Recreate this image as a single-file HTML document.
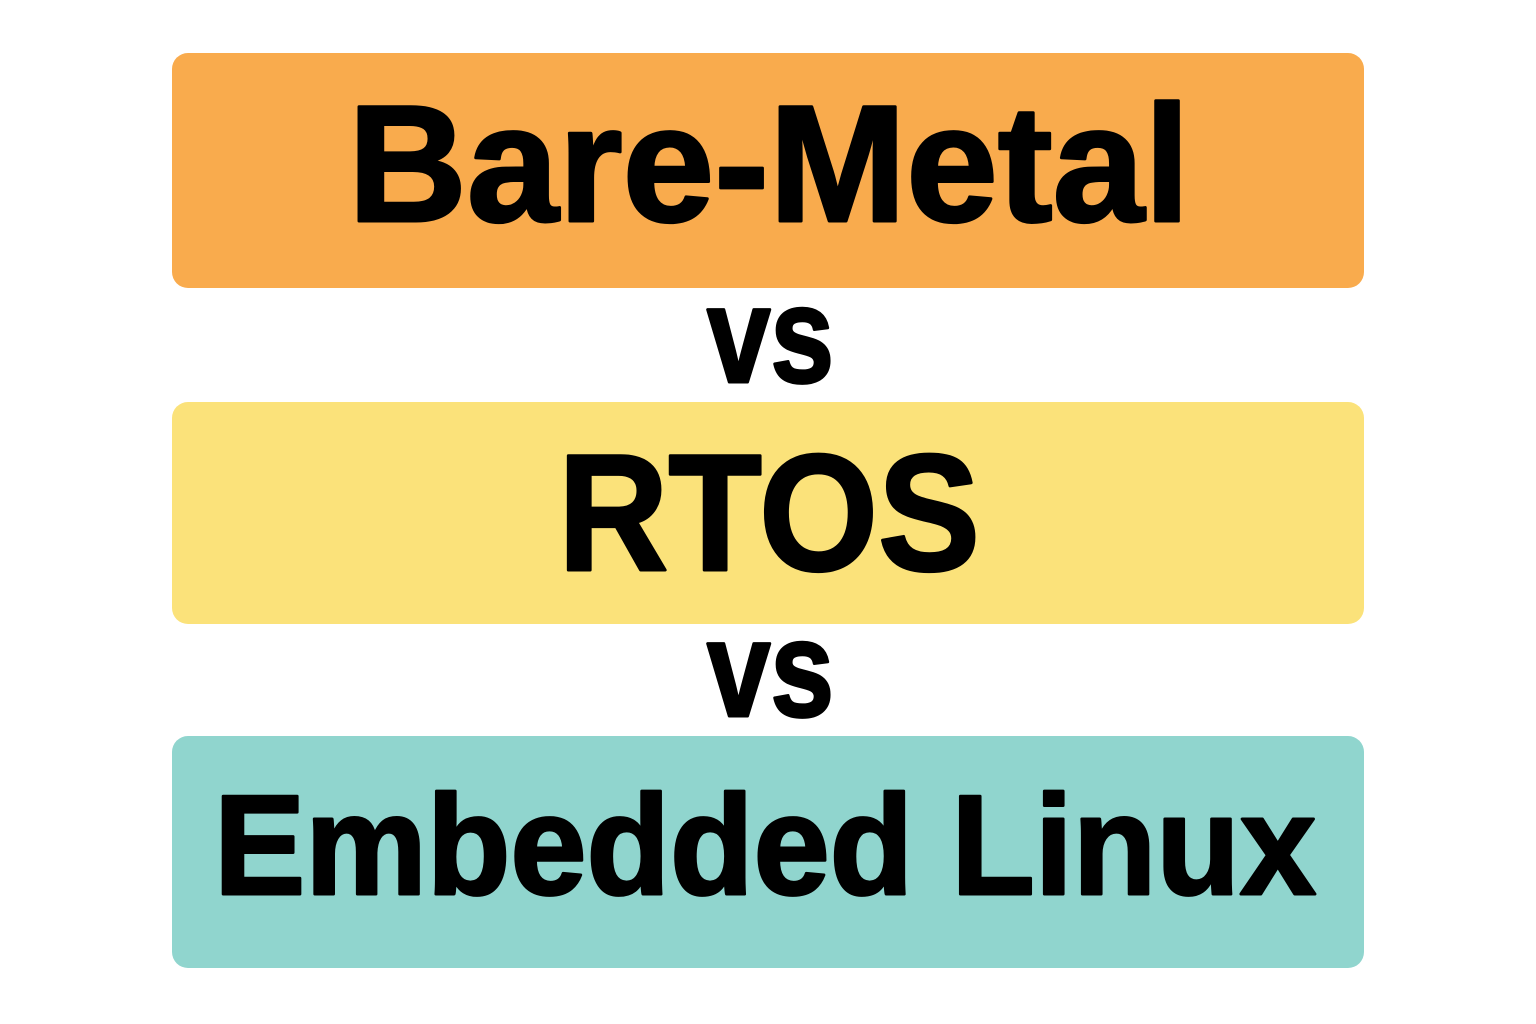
<!DOCTYPE html>
<html><head><meta charset="utf-8"><style>
html,body{margin:0;padding:0;background:#fff;}
svg{display:block;}
text{font-family:"Liberation Sans",sans-serif;font-weight:bold;fill:#000;stroke:#000;stroke-width:3;stroke-linejoin:round;}
</style></head><body>
<svg width="1536" height="1024" viewBox="0 0 1536 1024" xmlns="http://www.w3.org/2000/svg">
<rect x="172" y="53" width="1192" height="235" rx="16" fill="#F9AB4D"/>
<rect x="172" y="402" width="1192" height="222" rx="16" fill="#FBE27A"/>
<rect x="172" y="736" width="1192" height="232" rx="16" fill="#90D5CE"/>
<text x="348" y="221" font-size="166" textLength="842" lengthAdjust="spacingAndGlyphs">Bare-Metal</text>
<text x="707" y="382" font-size="137" textLength="127" lengthAdjust="spacingAndGlyphs">vs</text>
<text x="558" y="570" font-size="166" textLength="422" lengthAdjust="spacingAndGlyphs">RTOS</text>
<text x="707" y="716" font-size="137" textLength="127" lengthAdjust="spacingAndGlyphs">vs</text>
<text x="214" y="894" font-size="142" textLength="1102" lengthAdjust="spacingAndGlyphs">Embedded Linux</text>
</svg>
</body></html>
